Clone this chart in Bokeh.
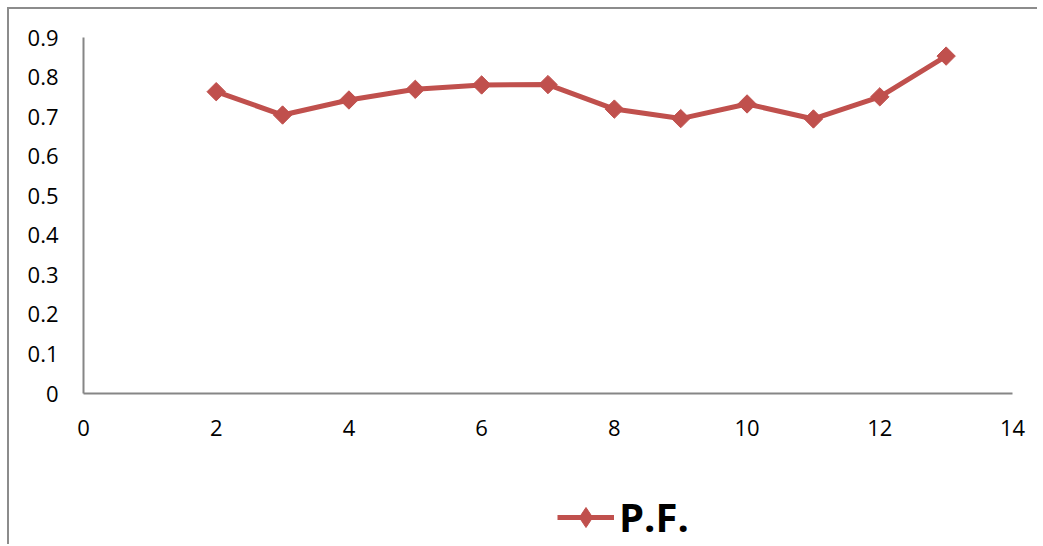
import numpy as np
from bokeh.plotting import figure
from bokeh.models import Legend, LegendItem, Range1d, FixedTicker, CustomJSTickFormatter
from bokeh.embed import file_html
from bokeh.resources import INLINE

# data
x_vals = [2, 3, 4, 5, 6, 7, 8, 9, 10, 11, 12, 13]
pf_vals = [0.763, 0.704, 0.742, 0.769, 0.780, 0.781, 0.719, 0.695, 0.732, 0.694, 0.750, 0.853]
x_ticks = [0, 2, 4, 6, 8, 10, 12, 14]
y_ticks = [0, 0.1, 0.2, 0.3, 0.4, 0.5, 0.6, 0.7, 0.8, 0.9]
series_name = "P.F."

RED = "#C0504D"
GRAY = "#868686"
FONT = "Open Sans"

# layout (pixels): the frame covers the whole canvas, both axes are pinned at 0
W, H = 1030, 537
AX_LEFT, AX_RIGHT = 74, 1003      # canvas x of x=0 and x=14
AX_TOP, AX_BOTTOM = 28, 384       # canvas y of y=0.9 and y=0
xpu = (AX_RIGHT - AX_LEFT) / 14.0
ypu = (AX_BOTTOM - AX_TOP) / 0.9
x_lo = -AX_LEFT / xpu
x_hi = 14 + (W - AX_RIGHT) / xpu
y_hi = 0.9 + AX_TOP / ypu
y_lo = -(H - AX_BOTTOM) / ypu

p = figure(width=W, height=H, output_backend="svg", toolbar_location=None,
           x_range=Range1d(x_lo, x_hi), y_range=Range1d(y_lo, y_hi),
           min_border_left=0, min_border_right=0, min_border_top=0, min_border_bottom=0)
p.styles = {"border-top": "2px solid #8c8c8c", "border-left": "2px solid #8c8c8c",
            "margin-left": "7px", "margin-top": "7px"}

p.grid.visible = False
p.outline_line_color = None
p.background_fill_color = "white"
p.border_fill_color = "white"

for ax in (p.xaxis[0], p.yaxis[0]):
    ax.axis_line_color = GRAY
    ax.axis_line_width = 2
    ax.major_tick_in = 0
    ax.major_tick_out = 0
    ax.minor_tick_in = 0
    ax.minor_tick_out = 0
    ax.major_label_text_font = FONT
    ax.major_label_text_font_size = "22px"
    ax.major_label_text_color = "black"
    ax.fixed_location = 0

p.xaxis.ticker = FixedTicker(ticks=x_ticks)
p.yaxis.ticker = FixedTicker(ticks=y_ticks)
p.yaxis.formatter = CustomJSTickFormatter(code="return tick == 0 ? '0' : tick.toFixed(1);")
p.xaxis.bounds = (0, 14)
p.yaxis.bounds = (0, 0.9)
p.xaxis.major_label_standoff = 26
p.yaxis.major_label_standoff = 25

line_r = p.line(x_vals, pf_vals, line_color=RED, line_width=5)
sc_r = p.scatter(x_vals, pf_vals, marker="square", angle=np.pi / 4, size=13,
                 fill_color=RED, line_color=RED)
# legend swatch marker (diamond shape; not drawn in the plot area)
leg_mark = p.scatter([float("nan")], [float("nan")], marker="diamond",
                     fill_color=RED, line_color=RED)

legend = Legend(items=[LegendItem(label=series_name, renderers=[line_r, leg_mark])],
                location=(474 + AX_LEFT, 2), padding=0, spacing=0, margin=0,
                border_line_color=None, background_fill_alpha=0,
                glyph_width=57, glyph_height=50, label_standoff=5,
                label_text_font=FONT, label_text_font_size="40px",
                label_text_font_style="bold", label_text_color="black")
p.add_layout(legend, "center")

open("out.html", "w").write(file_html(p, INLINE))
